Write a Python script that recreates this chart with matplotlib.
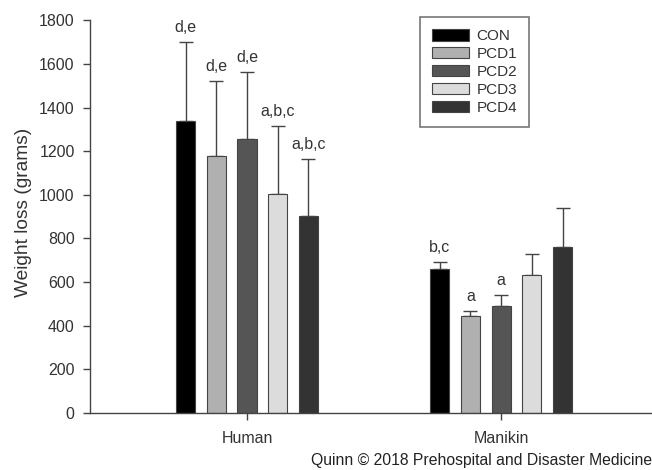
import matplotlib
matplotlib.use("Agg")
import matplotlib.pyplot as plt
import numpy as np

plt.rcParams['font.family'] = ['Liberation Sans', 'DejaVu Sans']

categories = ["Human", "Manikin"]
series = ["CON", "PCD1", "PCD2", "PCD3", "PCD4"]
means = {
    "CON":  [1338, 661],
    "PCD1": [1176, 443],
    "PCD2": [1255, 491],
    "PCD3": [1005, 635],
    "PCD4": [905, 763],
}
errors = {
    "CON":  [361, 32],
    "PCD1": [347, 26],
    "PCD2": [310, 51],
    "PCD3": [311, 95],
    "PCD4": [258, 176],
}
labels = {
    "CON":  ["d,e", "b,c"],
    "PCD1": ["d,e", "a"],
    "PCD2": ["d,e", "a"],
    "PCD3": ["a,b,c", ""],
    "PCD4": ["a,b,c", ""],
}
colors = ["#000000", "#b0b0b0", "#555555", "#dcdcdc", "#333333"]
yticks = [0, 200, 400, 600, 800, 1000, 1200, 1400, 1600, 1800]

fig = plt.figure(figsize=(6.52, 4.70), dpi=100)
ax = fig.add_axes([0.138, 0.121, 0.862, 0.836])

x = np.arange(1, len(categories) + 1)
spacing = 0.121
width = 0.075
text_color = "#333333"
for i, s in enumerate(series):
    xpos = x + (i - 2) * spacing
    ax.bar(xpos, means[s], width=width, color=colors[i], edgecolor="#444444",
           linewidth=0.8, label=s, zorder=2)
    ax.errorbar(xpos, means[s], yerr=[np.zeros(len(x)), errors[s]], fmt="none",
                ecolor="#444444", elinewidth=1.0, capsize=5, capthick=1.0, zorder=1)
    for j in range(len(x)):
        lab = labels[s][j]
        if lab:
            ax.annotate(lab, (xpos[j], means[s][j] + errors[s][j]),
                        xytext=(0, 5), textcoords="offset points",
                        ha="center", va="bottom", fontsize=11.5, color=text_color)

ax.set_xlim(0.382, 2.594)
ax.set_ylim(0, 1800)
ax.set_yticks(yticks)
ax.set_xticks(x)
ax.set_xticklabels(categories)
ax.spines["top"].set_visible(False)
ax.spines["right"].set_visible(False)
for sp in ["left", "bottom"]:
    ax.spines[sp].set_color("#444444")
    ax.spines[sp].set_linewidth(1.0)
ax.tick_params(axis="both", direction="out", length=5, width=1, color="#444444",
               labelsize=11.5, labelcolor=text_color, pad=6)
ax.tick_params(axis="x", pad=8)
ax.set_ylabel("Weight loss (grams)", fontsize=13.8, color=text_color)
ax.yaxis.set_label_coords(-0.103, 0.51)

leg = ax.legend(loc="upper left", bbox_to_anchor=(0.587, 1.008), frameon=True,
                fancybox=False, edgecolor="#555555", fontsize=11,
                handlelength=2.4, handleheight=0.75, labelspacing=0.25,
                borderpad=0.8, handletextpad=0.5, borderaxespad=0)
leg.get_frame().set_linewidth(1.2)
for t in leg.get_texts():
    t.set_color(text_color)

fig.text(1.0, 0.004, "Quinn \u00a9 2018 Prehospital and Disaster Medicine",
         ha="right", va="bottom", fontsize=11.3, color="#222222")

fig.savefig("out.png", dpi=100)
